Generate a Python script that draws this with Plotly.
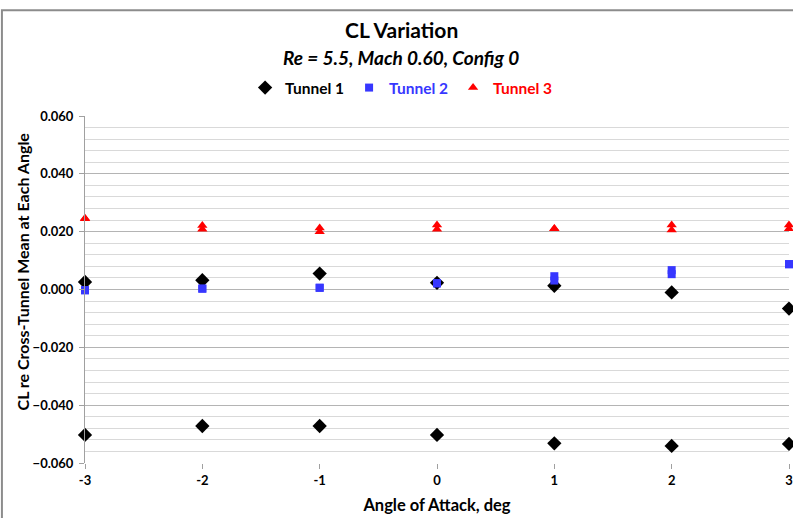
import plotly.graph_objects as go

angles = [-3, -2, -1, 0, 1, 2, 3]
t1_run1 = [0.0026, 0.0032, 0.0055, 0.0023, 0.0013, -0.0010, -0.0066]
t1_run2 = [-0.0503, -0.0472, -0.0472, -0.0503, -0.0532, -0.0541, -0.0534]
t2_run1 = [-0.0002, 0.0003, 0.0006, 0.0022, 0.0046, 0.0067, 0.0088]
t2_run2 = [-0.0003, 0.0003, 0.0006, 0.0021, 0.0031, 0.0053, 0.0087]
t3_run1 = [0.0246, 0.0221, 0.0213, 0.0223, 0.0211, 0.0223, 0.0223]
t3_run2 = [0.0245, 0.0208, 0.0200, 0.0208, 0.0210, 0.0206, 0.0210]
y_ticks = [-0.06, -0.04, -0.02, 0.0, 0.02, 0.04, 0.06]

FONT = "Lato"
BLACK, BLUE, RED = "#000000", "#3737FF", "#FF0000"

fig = go.Figure()
fig.add_trace(go.Scatter(x=angles + angles, y=t1_run1 + t1_run2, mode="markers",
                         name="Tunnel 1", cliponaxis=False,
                         marker=dict(symbol="diamond", size=11, color=BLACK)))
fig.add_trace(go.Scatter(x=angles + angles, y=t2_run1 + t2_run2, mode="markers",
                         name="<span style='color:%s'>Tunnel 2</span>" % BLUE, cliponaxis=False,
                         marker=dict(symbol="square", size=8, color=BLUE)))
fig.add_trace(go.Scatter(x=angles + angles, y=t3_run1 + t3_run2, mode="markers",
                         name="<span style='color:%s'>Tunnel 3</span>" % RED, cliponaxis=False,
                         marker=dict(symbol="triangle-up", size=9, color=RED)))

fig.update_layout(
    width=793, height=518,
    margin=dict(l=85, r=4, t=116, b=55, autoexpand=False),
    paper_bgcolor="white", plot_bgcolor="white",
    font=dict(family=FONT, color="black"),
    showlegend=True,
    legend=dict(orientation="h", x=0.449, xanchor="center", xref="paper",
                y=1 - 88 / 518, yref="container", yanchor="middle",
                font=dict(family=FONT, size=15.5, weight="bold"),
                itemwidth=30, tracegroupgap=0),
    annotations=[
        dict(text="<b>CL Variation</b>", x=0.449, y=1.248, xref="paper", yref="paper",
             xanchor="center", yanchor="middle", showarrow=False,
             font=dict(family=FONT, size=21)),
        dict(text="<b><i>Re = 5.5, Mach 0.60, Config 0</i></b>", x=0.449, y=1.17,
             xref="paper", yref="paper", xanchor="center", yanchor="middle",
             showarrow=False, font=dict(family=FONT, size=19)),
        dict(text="<b>CL re Cross-Tunnel Mean at Each Angle</b>", x=-0.0895, y=0.552,
             xref="paper", yref="paper", xanchor="center", yanchor="middle",
             textangle=-90, showarrow=False, font=dict(family=FONT, size=16)),
    ],
    shapes=[
        dict(type="rect", xref="paper", yref="paper", x0=-0.118, x1=1.3, y0=-0.6, y1=1.305,
             line=dict(color="#8C8C8C", width=2), fillcolor="rgba(0,0,0,0)"),
    ],
)

fig.update_xaxes(
    range=[-3, 3], tickvals=angles, ticktext=[str(a) for a in angles],
    automargin=False, ticklabeloverflow="allow",
    showgrid=False, zeroline=False, showline=False,
    ticks="outside", ticklen=5, tickcolor="#A0A0A0",
    tickfont=dict(family=FONT, size=13, weight="bold"),
    title=dict(text="<b>Angle of Attack, deg</b>", font=dict(family=FONT, size=16.5), standoff=12),
)
fig.update_yaxes(
    range=[-0.06, 0.06], tickvals=y_ticks, tickformat=".3f",
    automargin=False, ticklabeloverflow="allow",
    showgrid=True, gridcolor="#B4B4B4", gridwidth=1,
    minor=dict(dtick=0.004, tick0=0, showgrid=True, gridcolor="#D9D9D9", gridwidth=1),
    zeroline=False, showline=True, linecolor="#A0A0A0", linewidth=1,
    ticks="outside", ticklen=5, tickcolor="#A0A0A0", ticklabelstandoff=3,
    tickfont=dict(family=FONT, size=13, weight="bold"),
)

fig.write_html("out.html", config={"displayModeBar": False},
               post_script="document.body.style.margin='0';document.body.style.overflow='hidden';")
